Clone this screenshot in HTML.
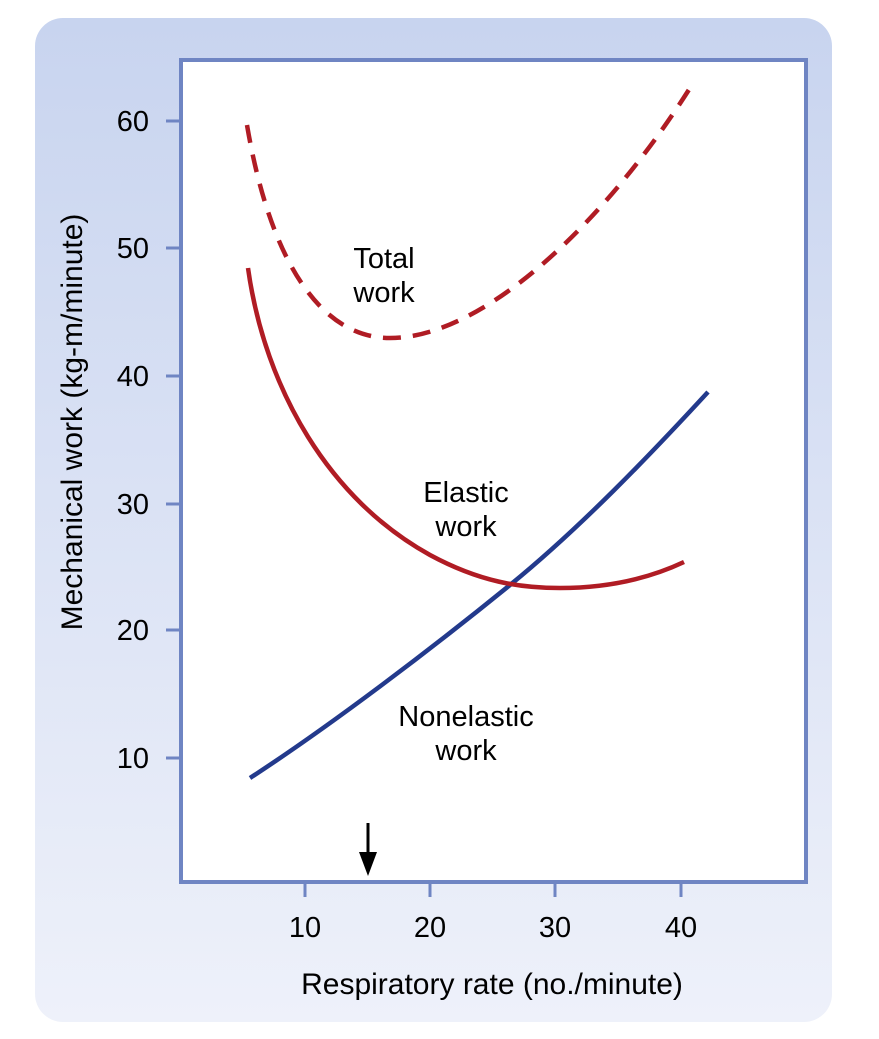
<!DOCTYPE html>
<html><head><meta charset="utf-8"><style>
html,body{margin:0;padding:0;background:#fff;}
svg{display:block;font-family:"Liberation Sans",Arial,sans-serif;}
</style></head><body>
<svg width="879" height="1039" viewBox="0 0 879 1039" xmlns="http://www.w3.org/2000/svg">
<defs>
<linearGradient id="bg" x1="0" y1="0" x2="0" y2="1">
<stop offset="0" stop-color="#c8d4ef"/>
<stop offset="1" stop-color="#eef1fa"/>
</linearGradient>
</defs>
<rect x="35" y="18" width="797" height="1004" rx="28" fill="url(#bg)"/>
<rect x="181" y="60" width="625" height="822" fill="#fff" stroke="#6f85c3" stroke-width="4"/>
<g stroke="#6f85c3" stroke-width="3">
<line x1="166" y1="121" x2="181" y2="121"/>
<line x1="166" y1="248" x2="181" y2="248"/>
<line x1="166" y1="376" x2="181" y2="376"/>
<line x1="166" y1="504" x2="181" y2="504"/>
<line x1="166" y1="630" x2="181" y2="630"/>
<line x1="166" y1="758" x2="181" y2="758"/>
<line x1="305" y1="882" x2="305" y2="897"/>
<line x1="430" y1="882" x2="430" y2="897"/>
<line x1="555" y1="882" x2="555" y2="897"/>
<line x1="681" y1="882" x2="681" y2="897"/>
</g>
<g font-size="29" fill="#000" text-anchor="end">
<text x="149" y="131">60</text>
<text x="149" y="258">50</text>
<text x="149" y="386">40</text>
<text x="149" y="514">30</text>
<text x="149" y="640">20</text>
<text x="149" y="768">10</text>
</g>
<g font-size="29" fill="#000" text-anchor="middle">
<text x="305" y="937">10</text>
<text x="430" y="937">20</text>
<text x="555" y="937">30</text>
<text x="681" y="937">40</text>
</g>
<text x="492" y="994" font-size="30" text-anchor="middle">Respiratory rate (no./minute)</text>
<text transform="translate(82,422) rotate(-90)" font-size="30" text-anchor="middle">Mechanical work (kg-m/minute)</text>
<g fill="none" stroke-width="4.5">
<path d="M250,778 C330,726 430,650 510,585 C580,528 650,455 708,392" stroke="#233a8c"/>
<path d="M248,268 C265,390 330,500 430,555 C480,582 520,588 560,588 C610,588 650,578 684,562" stroke="#b01c24"/>
<path d="M247,125 C270,260 320,338 390,338 C480,338 600,230 690,88" stroke="#b01c24" stroke-dasharray="18,12"/>
</g>
<line x1="368" y1="823" x2="368" y2="858" stroke="#000" stroke-width="3"/>
<polygon points="359,852 377,852 368,876" fill="#000"/>
<g font-size="29" fill="#000" text-anchor="middle">
<text x="384" y="268">Total</text>
<text x="384" y="302">work</text>
<text x="466" y="502">Elastic</text>
<text x="466" y="536">work</text>
<text x="466" y="726">Nonelastic</text>
<text x="466" y="760">work</text>
</g>
</svg>
</body></html>
